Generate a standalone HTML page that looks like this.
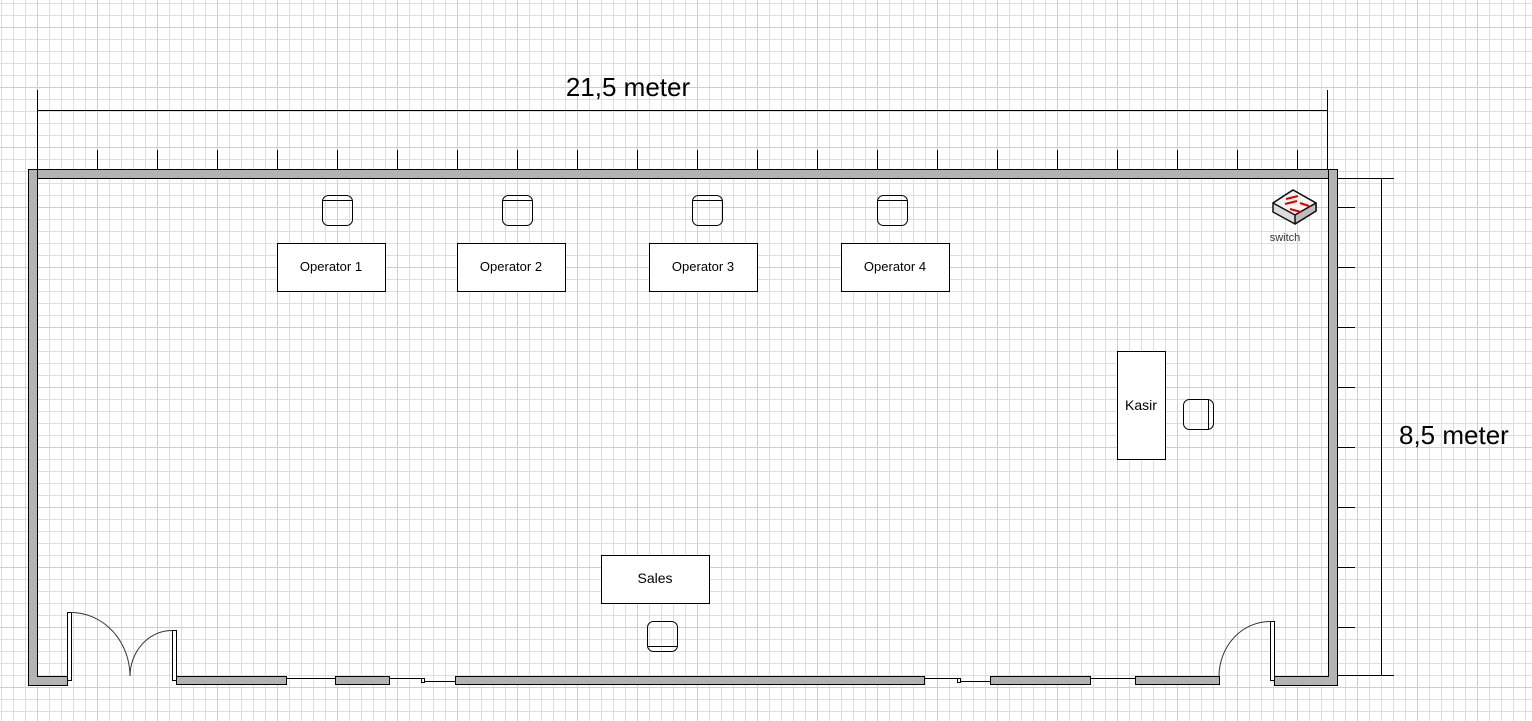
<!DOCTYPE html>
<html><head><style>
html,body{margin:0;padding:0;background:#fff;}
body{width:1532px;height:721px;overflow:hidden;position:relative;font-family:"Liberation Sans",sans-serif;}
</style></head><body>
<svg width="1532" height="721" xmlns="http://www.w3.org/2000/svg" style="position:absolute;left:0;top:0">
<defs>
<pattern id="g" x="1" y="3" width="12" height="12" patternUnits="userSpaceOnUse">
<path d="M0.5 0V12M0 0.5H12" fill="none" stroke="#dedede" stroke-width="1"/>
</pattern>
<pattern id="G" x="37" y="27" width="60" height="60" patternUnits="userSpaceOnUse">
<path d="M0.5 0V60M0 0.5H60" fill="none" stroke="#cfcfcf" stroke-width="1"/>
</pattern>
</defs>
<rect width="1532" height="721" fill="url(#g)"/>
<rect width="1532" height="721" fill="url(#G)"/>
<g stroke="#000" stroke-width="1" fill="none">
<line x1="37.5" y1="90" x2="37.5" y2="170"/>
<line x1="1327.5" y1="90" x2="1327.5" y2="170"/>
<line x1="37" y1="110.5" x2="1328" y2="110.5"/>
<path d="M97.5 150V169M157.5 150V169M217.5 150V169M277.5 150V169M337.5 150V169M397.5 150V169M457.5 150V169M517.5 150V169M577.5 150V169M637.5 150V169M697.5 150V169M757.5 150V169M817.5 150V169M877.5 150V169M937.5 150V169M997.5 150V169M1057.5 150V169M1117.5 150V169M1177.5 150V169M1237.5 150V169M1297.5 150V169"/>
<line x1="1337" y1="178.5" x2="1394" y2="178.5"/>
<line x1="1337" y1="675.5" x2="1394" y2="675.5"/>
<line x1="1381.5" y1="178" x2="1381.5" y2="676"/>
<path d="M1337 207.5H1355M1337 267.5H1355M1337 327.5H1355M1337 387.5H1355M1337 447.5H1355M1337 507.5H1355M1337 567.5H1355M1337 627.5H1355"/>
</g>
<g fill="#b3b3b3" stroke="#000" stroke-width="1">
<rect x="28.5" y="169.5" width="1309" height="9"/>
<rect x="28.5" y="169.5" width="9" height="516"/>
<rect x="1328.5" y="169.5" width="9" height="516"/>
<rect x="28.5" y="676.5" width="39" height="9"/>
<rect x="176.5" y="676.5" width="110" height="8"/>
<rect x="335.5" y="676.5" width="54" height="8"/>
<rect x="455.5" y="676.5" width="469" height="8"/>
<rect x="990.5" y="676.5" width="100" height="8"/>
<rect x="1135.5" y="676.5" width="84" height="8"/>
<rect x="1274.5" y="676.5" width="63" height="9"/>
</g>
<rect x="29" y="170" width="8" height="515" fill="#b3b3b3"/>
<rect x="1329" y="170" width="8" height="515" fill="#b3b3b3"/>
<rect x="29" y="677" width="38" height="8" fill="#b3b3b3"/>
<rect x="1275" y="677" width="62" height="8" fill="#b3b3b3"/>
<g stroke="#000" stroke-width="1" fill="none">
<path d="M37.5 178.5V676.5H67M1328.5 178.5V676.5H1275M37.5 178.5H1328.5"/>
<path d="M28.5 169.5H1337.5V685.5H1275M28.5 169.5V685.5H67"/>
<line x1="287" y1="678.5" x2="335" y2="678.5"/>
<line x1="389" y1="678.5" x2="421" y2="678.5"/>
<rect x="421.5" y="678.5" width="3" height="4" fill="#fff"/>
<line x1="424" y1="681.5" x2="455" y2="681.5"/>
<line x1="925" y1="678.5" x2="957" y2="678.5"/>
<rect x="957.5" y="678.5" width="3" height="4" fill="#fff"/>
<line x1="960" y1="681.5" x2="990" y2="681.5"/>
<line x1="1090" y1="678.5" x2="1135" y2="678.5"/>
<rect x="67.5" y="612.5" width="4" height="68" fill="#fff"/>
<rect x="172.5" y="630.5" width="4" height="50" fill="#fff"/>
<path d="M71 612.5 A59 64 0 0 1 130 676" stroke="#333"/>
<path d="M172 630.5 A42 46 0 0 0 130 676" stroke="#333"/>
<rect x="1270.5" y="621.5" width="4" height="59" fill="#fff"/>
<path d="M1270 621.5 A51 55 0 0 0 1219 676" stroke="#333"/>
<rect x="322.5" y="195.5" width="30" height="30" rx="6"/><line x1="323" y1="200.5" x2="352" y2="200.5"/>
<rect x="502.5" y="195.5" width="30" height="30" rx="6"/><line x1="503" y1="200.5" x2="532" y2="200.5"/>
<rect x="692.5" y="195.5" width="30" height="30" rx="6"/><line x1="693" y1="200.5" x2="722" y2="200.5"/>
<rect x="877.5" y="195.5" width="30" height="30" rx="6"/><line x1="878" y1="200.5" x2="907" y2="200.5"/>
<rect x="1183.5" y="399.5" width="30" height="30" rx="6"/><line x1="1208.5" y1="400" x2="1208.5" y2="429"/>
<rect x="647.5" y="621.5" width="30" height="30" rx="6"/><line x1="648" y1="646.5" x2="677" y2="646.5"/>
<rect x="277.5" y="243.5" width="108" height="48" fill="#fff"/>
<rect x="457.5" y="243.5" width="108" height="48" fill="#fff"/>
<rect x="649.5" y="243.5" width="108" height="48" fill="#fff"/>
<rect x="841.5" y="243.5" width="108" height="48" fill="#fff"/>
<rect x="1117.5" y="351.5" width="48" height="108" fill="#fff"/>
<rect x="601.5" y="555.5" width="108" height="48" fill="#fff"/>
</g>
<g stroke="#111" stroke-width="1.5" stroke-linejoin="round">
<path d="M1273 203 L1293 190 L1316 203 L1316 211 L1295 224 L1273 212 Z" fill="#dcdcdc"/>
<path d="M1273 203 L1293 190 L1316 203 L1295 215 Z" fill="#f4f4f4"/>
<path d="M1295 215 L1316 203 L1316 211 L1295 224 Z" fill="#bdbdbd"/>
</g>
<g stroke="#d00" stroke-width="2" fill="#d00">
<path d="M1286 199 L1298 196 M1300 203 L1309 206 M1285 204 L1297 201 M1290 209 L1301 212"/>
</g>
<g font-family="Liberation Sans, sans-serif" fill="#000">
<text x="628" y="96" font-size="26" text-anchor="middle">21,5 meter</text>
<text x="1399" y="444" font-size="26">8,5 meter</text>
<text x="331" y="271" font-size="13" text-anchor="middle">Operator 1</text>
<text x="511" y="271" font-size="13" text-anchor="middle">Operator 2</text>
<text x="703" y="271" font-size="13" text-anchor="middle">Operator 3</text>
<text x="895" y="271" font-size="13" text-anchor="middle">Operator 4</text>
<text x="1141" y="410" font-size="14" text-anchor="middle">Kasir</text>
<text x="655" y="583" font-size="14" text-anchor="middle">Sales</text>
<text x="1285" y="241" font-size="11" text-anchor="middle" fill="#333">switch</text>
</g>
</svg>
</body></html>
